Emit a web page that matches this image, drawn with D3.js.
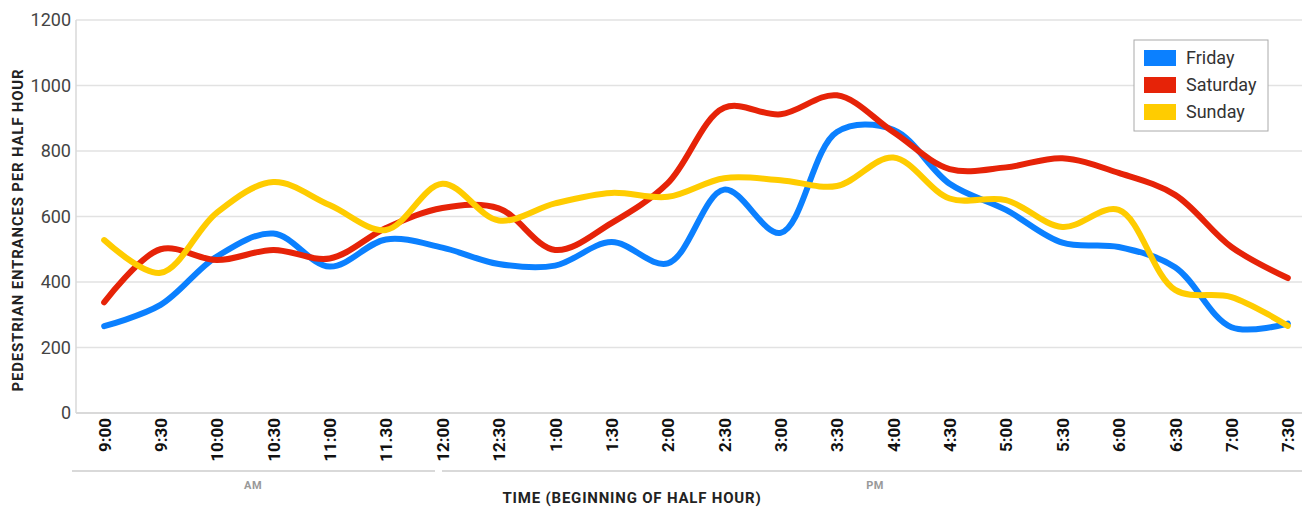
<!DOCTYPE html>
<html>
<head>
<meta charset="utf-8">
<script src="https://cdn.jsdelivr.net/npm/d3@7"></script>
<style>
  html, body { margin: 0; padding: 0; background: #fff; }
  svg { display: block; font-family: Roboto, "Noto Sans", sans-serif; }
</style>
</head>
<body>
<svg id="chart" width="1302" height="510"></svg>
<script>
// Half-hour slots, 9:00 AM to 7:30 PM
const times = ['9:00','9:30','10:00','10:30','11:00','11.30','12:00','12:30','1:00','1:30','2:00',
               '2:30','3:00','3:30','4:00','4:30','5:00','5:30','6:00','6:30','7:00','7:30'];

const friday   = [265, 330, 478, 548, 447, 530, 505, 455, 450, 522, 457, 682, 550, 858, 865, 700, 620, 520, 507, 445, 262, 273];
const saturday = [338, 500, 467, 498, 472, 565, 626, 625, 498, 580, 702, 932, 912, 970, 858, 745, 750, 778, 733, 666, 507, 412];
const sunday   = [528, 428, 612, 705, 635, 559, 700, 588, 640, 672, 660, 717, 711, 693, 780, 655, 650, 568, 620, 376, 354, 266];

const seriesNames = ['Friday', 'Saturday', 'Sunday'];
const seriesColors = ['#0b80ff', '#e62308', '#ffcc00'];
const yTicks = [0, 200, 400, 600, 800, 1000, 1200];

const svg = d3.select('#chart');
const plotLeft = 76, plotTop = 20, plotBottom = 413, plotRight = 1302;

const x = d3.scalePoint()
  .domain(times)
  .range([plotLeft, 1316])
  .padding(0.5);

const y = d3.scaleLinear()
  .domain([0, 1200])
  .range([plotBottom, plotTop]);

/*
 * Grid and axes
 */
const grid = svg.append('g');
grid.selectAll('line')
  .data(yTicks)
  .enter().append('line')
    .attr('x1', plotLeft).attr('x2', plotRight)
    .attr('y1', d => y(d)).attr('y2', d => y(d))
    .attr('stroke', d => d === 0 ? '#ccc' : '#e2e2e2')
    .attr('stroke-width', 1.5);

svg.append('line')
  .attr('x1', plotLeft).attr('x2', plotLeft)
  .attr('y1', plotTop).attr('y2', plotBottom)
  .attr('stroke', '#d8d8d8')
  .attr('stroke-width', 1.5);

const yAxis = svg.append('g')
  .attr('transform', 'translate(' + plotLeft + ',0)')
  .call(d3.axisLeft(y).tickValues(yTicks).tickFormat(d3.format('d')).tickSize(0).tickPadding(5));
yAxis.select('.domain').remove();
yAxis.selectAll('text')
  .attr('font-size', 18)
  .attr('fill', '#444')
  .attr('font-family', 'Roboto, sans-serif');

const xAxis = svg.append('g')
  .attr('transform', 'translate(0,' + plotBottom + ')')
  .call(d3.axisBottom(x).tickSize(0));
xAxis.select('.domain').remove();
xAxis.selectAll('text')
  .attr('font-size', 17)
  .attr('font-weight', 'bold')
  .attr('fill', '#111')
  .attr('font-family', 'Roboto, sans-serif')
  .attr('text-anchor', 'end')
  .attr('transform', 'rotate(-90)')
  .attr('x', -5)
  .attr('y', 0)
  .attr('dy', '0.35em');

// AM / PM group lines
svg.append('line')
  .attr('x1', 72).attr('x2', 435).attr('y1', 471).attr('y2', 471)
  .attr('stroke', '#ccc').attr('stroke-width', 1.5);
svg.append('line')
  .attr('x1', 442).attr('x2', plotRight).attr('y1', 471).attr('y2', 471)
  .attr('stroke', '#ccc').attr('stroke-width', 1.5);

svg.append('text')
  .attr('x', 253).attr('y', 489)
  .attr('text-anchor', 'middle')
  .attr('font-size', 11).attr('font-weight', 'bold').attr('fill', '#999')
  .attr('letter-spacing', 0.5)
  .text('AM');
svg.append('text')
  .attr('x', 875).attr('y', 489)
  .attr('text-anchor', 'middle')
  .attr('font-size', 11).attr('font-weight', 'bold').attr('fill', '#999')
  .attr('letter-spacing', 0.5)
  .text('PM');

svg.append('text')
  .attr('x', 632).attr('y', 503)
  .attr('text-anchor', 'middle')
  .attr('font-size', 15).attr('font-weight', 'bold').attr('fill', '#222')
  .attr('letter-spacing', 0.8)
  .text('TIME (BEGINNING OF HALF HOUR)');

svg.append('text')
  .attr('transform', 'translate(23,230) rotate(-90)')
  .attr('text-anchor', 'middle')
  .attr('font-size', 15).attr('font-weight', 'bold').attr('fill', '#222')
  .attr('letter-spacing', 0.8)
  .text('PEDESTRIAN ENTRANCES PER HALF HOUR');

/*
 * Lines
 */
const series = [friday, saturday, sunday];
const line = d3.line()
  .x((d, i) => x(times[i]))
  .y(d => y(d))
  .curve(d3.curveCatmullRom.alpha(0.5));

svg.append('g')
  .selectAll('path')
  .data(series)
  .enter().append('path')
    .attr('d', d => line(d))
    .attr('fill', 'none')
    .attr('stroke', (d, i) => seriesColors[i])
    .attr('stroke-width', 6)
    .attr('stroke-linecap', 'round')
    .attr('stroke-linejoin', 'round');

/*
 * Legend
 */
const legend = svg.append('g').attr('transform', 'translate(1134,40)');
legend.append('rect')
  .attr('width', 134).attr('height', 91)
  .attr('fill', '#fff')
  .attr('stroke', '#aaa');

const items = legend.selectAll('g.item')
  .data(seriesNames)
  .enter().append('g')
    .attr('class', 'item')
    .attr('transform', (d, i) => 'translate(10,' + (10 + i * 27) + ')');
items.append('rect')
  .attr('width', 32).attr('height', 16)
  .attr('fill', (d, i) => seriesColors[i]);
items.append('text')
  .attr('x', 42).attr('y', 8)
  .attr('dy', '0.35em')
  .attr('font-size', 18)
  .attr('fill', '#333')
  .text(d => d);
</script>
</body>
</html>
